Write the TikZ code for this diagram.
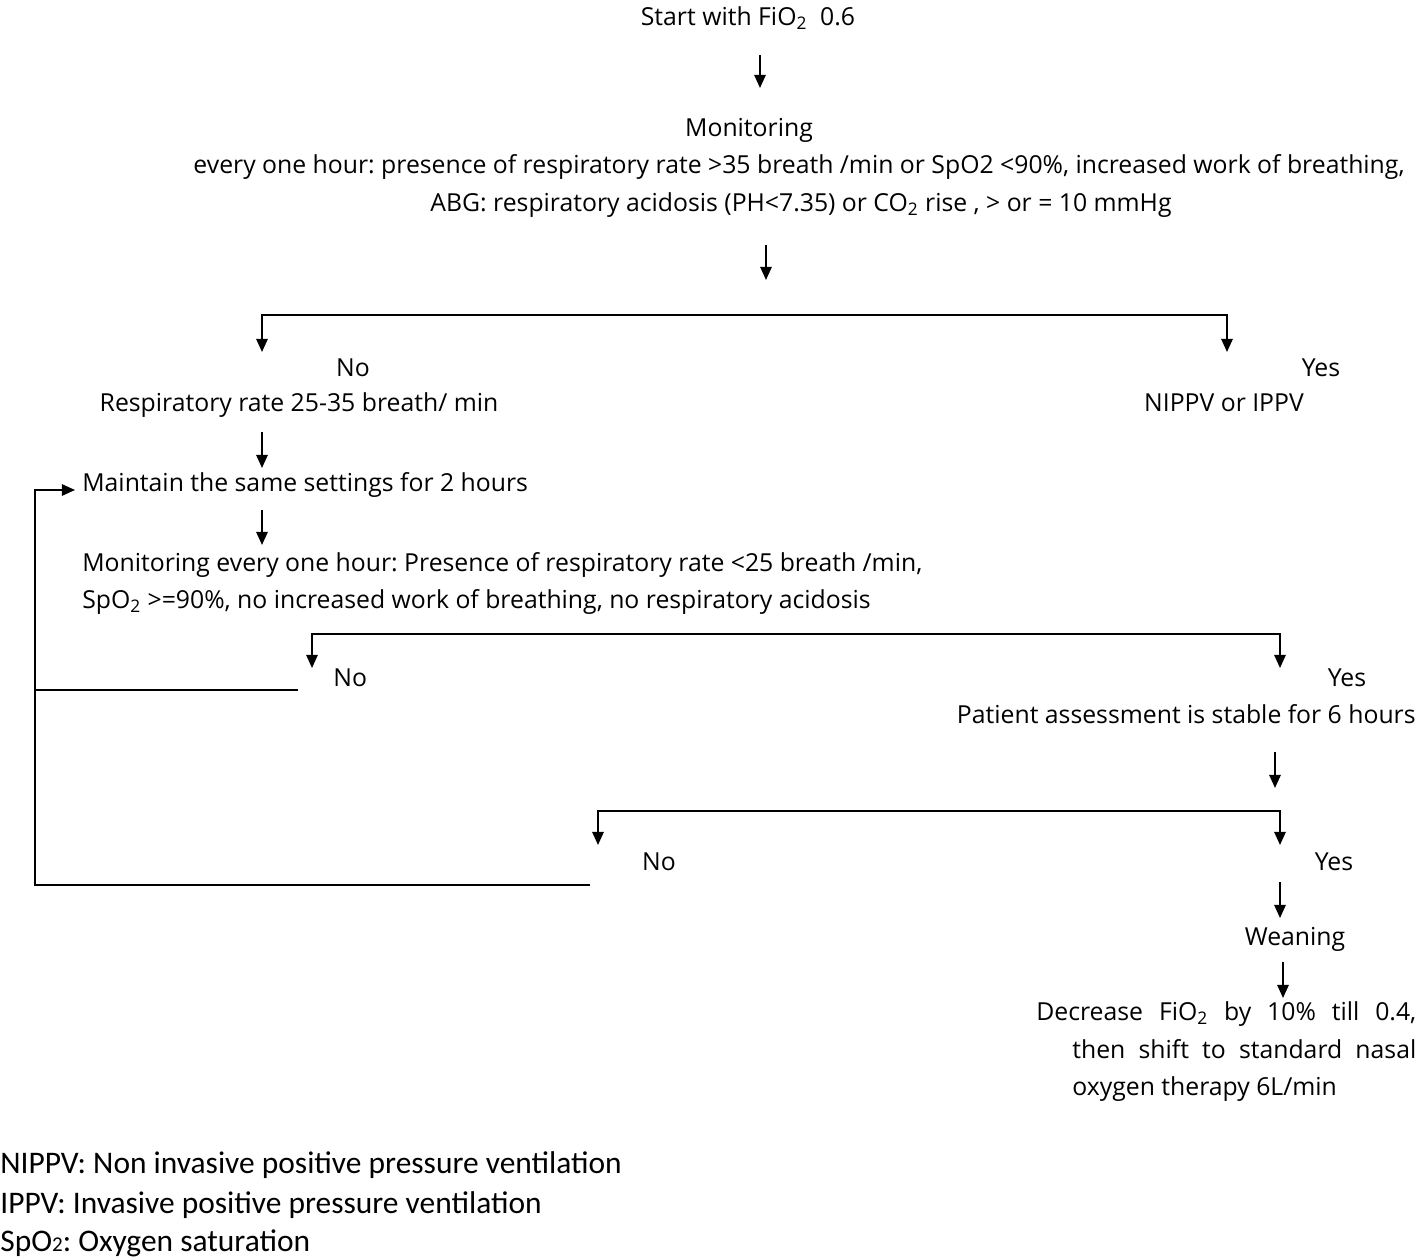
\documentclass[tikz,border=0pt]{standalone}
\usepackage{fontspec}
\setmainfont{Open Sans}
\newfontfamily\notefont{Carlito}
\usepackage{tikz}
\usetikzlibrary{arrows.meta}
\frenchspacing

\begin{document}
\begin{tikzpicture}[x=0.02cm,y=-0.02cm]
\tikzstyle{txt}=[inner sep=0pt,yshift=-1.1pt,text height=0.75em,text depth=0.25em,font=\fontsize{14.1}{16}\selectfont]
\tikzstyle{note}=[inner sep=0pt,anchor=west,yshift=-2.3pt,text height=0.75em,text depth=0.25em,font=\notefont\fontsize{17.9}{20}\selectfont]
\tikzstyle{arr}=[-{Triangle[width=6.5pt,length=7.5pt]},line width=1.1pt]
\tikzstyle{fork}=[{Triangle[width=6.5pt,length=7.5pt]}-{Triangle[width=6.5pt,length=7.5pt]},line width=1.1pt]
\useasboundingbox (0,0) rectangle (1423,1260);

\node[txt] at(748, 19) (start) {Start with FiO\textsubscript{2}\ \ 0.6};
\node[txt] at(749, 130) (mon) {Monitoring};
\node[txt] at(799, 167) (monb) {every one hour: presence of respiratory rate >35 breath /min or SpO2 <90\%, increased work of breathing,};
\node[txt] at(801, 205) (monc) {ABG: respiratory acidosis (PH<7.35) or CO\textsubscript{2} rise , > or = 10 mmHg};

\node[txt] at(353, 370) (no1) {No};
\node[txt] at(299, 405) (rr) {Respiratory rate 25-35 breath/ min};
\node[txt] at(1321, 370) (yes1) {Yes};
\node[txt] at(1224, 405) (nippv) {NIPPV or IPPV};

\node[txt,anchor=west] at(82, 485) (keep) {Maintain the same settings for 2 hours};
\node[txt,anchor=west] at(82, 565) (recheck) {Monitoring every one hour: Presence of respiratory rate <25 breath /min,};
\node[txt,anchor=west] at(82, 602) (recheckb) {SpO\textsubscript{2} >=90\%, no increased work of breathing, no respiratory acidosis};

\node[txt,anchor=west] at(333, 680) (no2) {No};
\node[txt] at(1347, 680) (yes2) {Yes};
\node[txt,anchor=east] at(1416, 717) (stable) {Patient assessment is stable for 6 hours};

\node[txt] at(659, 864) (no3) {No};
\node[txt] at(1334, 864) (yes3) {Yes};
\node[txt] at(1295, 939) (wean) {Weaning};
\node[txt,anchor=west] at(1036, 1014) (dec) {\makebox[7.6cm][s]{Decrease FiO\textsubscript{2} by 10\% till 0.4,}};
\node[txt,anchor=west] at(1072, 1052) (decb) {\makebox[6.88cm][s]{then shift to standard nasal}};
\node[txt,anchor=west] at(1072, 1089) (decc) {oxygen therapy 6L/min};

\node[note] at(0, 1165) (abbr1) {NIPPV: Non invasive positive pressure ventilation};
\node[note] at(0, 1205) (abbr2) {IPPV: Invasive positive pressure ventilation};
\node[note,yshift=1.5pt] at(0, 1246) (abbr3) {SpO{\fontsize{12}{12}\selectfont 2}: Oxygen saturation};

% arrow ends and corners
\coordinate (a1) at (760, 55);  \coordinate (a1e) at (760, 88);
\coordinate (a2) at (766, 245); \coordinate (a2e) at (766, 280);
\coordinate (f1l) at (262, 315); \coordinate (f1r) at (1227, 315);
\coordinate (f1le) at (262, 352); \coordinate (f1re) at (1227, 352);
\coordinate (a3) at (262, 432); \coordinate (a3e) at (262, 468);
\coordinate (a4) at (262, 510); \coordinate (a4e) at (262, 545);
\coordinate (f2l) at (312, 634); \coordinate (f2r) at (1280, 634);
\coordinate (f2le) at (312, 668); \coordinate (f2re) at (1280, 668);
\coordinate (a5) at (1275, 752); \coordinate (a5e) at (1275, 788);
\coordinate (f3l) at (598, 811); \coordinate (f3r) at (1280, 811);
\coordinate (f3le) at (598, 845); \coordinate (f3re) at (1280, 845);
\coordinate (a6) at (1280, 882); \coordinate (a6e) at (1280, 918);
\coordinate (a7) at (1283, 962); \coordinate (a7e) at (1283, 998);
\coordinate (back2) at (298, 690); \coordinate (back2c) at (35, 690);
\coordinate (back3) at (590, 885); \coordinate (back3c) at (35, 885);
\coordinate (backtop) at (35, 490); \coordinate (backend) at (75, 490);

\draw[arr] (a1) -- (a1e);
\draw[arr] (a2) -- (a2e);
\draw[fork] (f1le) -- (f1l) -- (f1r) -- (f1re);
\draw[arr] (a3) -- (a3e);
\draw[arr] (a4) -- (a4e);
\draw[fork] (f2le) -- (f2l) -- (f2r) -- (f2re);
\draw[arr] (a5) -- (a5e);
\draw[fork] (f3le) -- (f3l) -- (f3r) -- (f3re);
\draw[arr] (a6) -- (a6e);
\draw[arr] (a7) -- (a7e);
\draw[line width=1.1pt] (back2) -- (back2c);
\draw[arr] (back3) -- (back3c) -- (backtop) -- (backend);
\end{tikzpicture}
\end{document}
